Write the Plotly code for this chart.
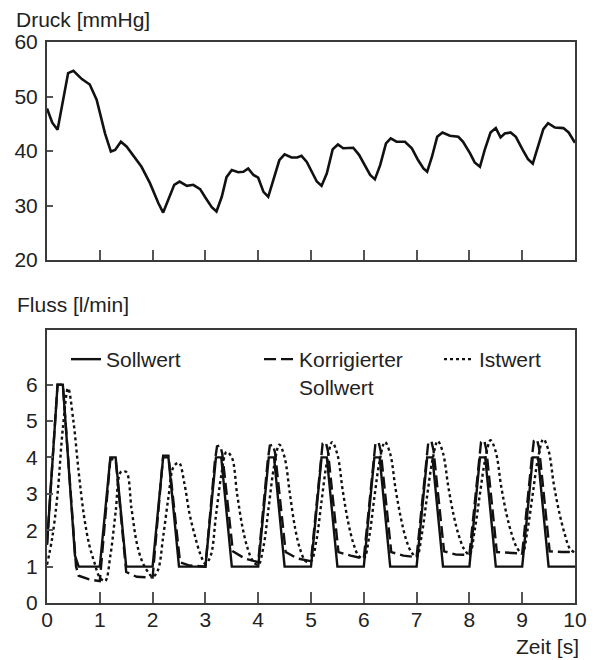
import plotly.graph_objects as go

# ---------------- data ----------------
# Druck [mmHg]
t_druck = [0, 0.1, 0.2, 0.3, 0.4, 0.5, 0.66, 0.81, 0.94, 1.1, 1.21, 1.29, 1.4, 1.51,
           1.67, 1.79, 1.95, 2.11, 2.2, 2.3, 2.41, 2.51, 2.65, 2.77, 2.9, 2.99, 3.12,
           3.21, 3.31, 3.4, 3.5, 3.62, 3.72, 3.81, 3.91, 4.0, 4.1, 4.19, 4.29, 4.4, 4.5,
           4.63, 4.74, 4.82, 4.92, 5.01, 5.11, 5.2, 5.3, 5.41, 5.51, 5.61, 5.8, 5.91,
           6.02, 6.12, 6.21, 6.31, 6.42, 6.51, 6.62, 6.78, 6.91, 7.03, 7.13, 7.2, 7.29,
           7.39, 7.49, 7.63, 7.79, 7.88, 8.01, 8.1, 8.2, 8.29, 8.4, 8.5, 8.59, 8.67,
           8.78, 8.88, 9.01, 9.11, 9.2, 9.3, 9.4, 9.49, 9.62, 9.78, 9.88, 10.0]
druck = [47.8, 45.2, 43.9, 49.0, 54.3, 54.7, 53.2, 52.2, 49.4, 43.2, 39.9, 40.2, 41.7, 40.8,
         38.7, 37.1, 34.1, 30.4, 28.7, 31.0, 33.8, 34.4, 33.6, 33.8, 33.0, 31.6, 29.7,
         28.9, 31.6, 35.2, 36.5, 36.1, 36.2, 36.8, 35.6, 35.1, 32.5, 31.6, 34.7, 38.3, 39.4,
         38.8, 38.8, 39.1, 38.0, 36.2, 34.4, 33.6, 35.9, 40.3, 41.2, 40.5, 40.6, 39.3,
         37.4, 35.6, 34.8, 37.4, 41.4, 42.3, 41.7, 41.7, 40.5, 38.3, 36.8, 36.2, 38.9,
         42.6, 43.4, 42.8, 42.6, 41.7, 39.6, 37.9, 37.1, 40.2, 43.4, 44.2, 42.5, 43.2,
         43.4, 42.6, 40.2, 38.5, 37.7, 40.8, 44.0, 45.1, 44.3, 44.2, 43.4, 41.5]

# Fluss [l/min] - Sollwert
t_soll = [0, 0.2, 0.3, 0.53, 0.6, 1.0, 1.2, 1.3, 1.5, 2.0, 2.2, 2.3, 2.5, 3.0, 3.2, 3.3,
          3.5, 4.0, 4.2, 4.3, 4.5, 5.0, 5.2, 5.3, 5.5, 6.0, 6.2, 6.3, 6.5, 7.0, 7.2, 7.3,
          7.5, 8.0, 8.2, 8.3, 8.5, 9.0, 9.2, 9.3, 9.5, 10.0]
soll = [1.6, 6, 6, 1.3, 1, 1, 4, 4, 1, 1, 4, 4, 1, 1, 4, 4,
        1, 1, 4, 4, 1, 1, 4, 4, 1, 1, 4, 4, 1, 1, 4, 4,
        1, 1, 4, 4, 1, 1, 4, 4, 1, 1]

# Korrigierter Sollwert
t_korr = [0, 0.2, 0.3, 0.55, 0.6, 0.8, 1.0,
          1.2, 1.3, 1.5, 1.7, 2.0,
          2.2, 2.3, 2.52, 2.7, 3.0,
          3.18, 3.22, 3.28, 3.32, 3.52, 3.75, 4.0,
          4.18, 4.22, 4.28, 4.32, 4.52, 4.75, 5.0,
          5.18, 5.22, 5.28, 5.32, 5.52, 5.75, 6.0,
          6.18, 6.22, 6.28, 6.32, 6.52, 6.75, 7.0,
          7.18, 7.22, 7.28, 7.32, 7.52, 7.75, 8.0,
          8.18, 8.22, 8.28, 8.32, 8.52, 8.75, 9.0,
          9.18, 9.22, 9.28, 9.32, 9.52, 9.75, 10.0]
korr = [1.6, 6, 6, 1.0, 0.75, 0.65, 0.6,
        3.95, 3.95, 0.85, 0.72, 0.7,
        4.05, 4.05, 1.12, 1.03, 1.0,
        3.9, 4.3, 4.33, 4.1, 1.42, 1.22, 1.12,
        3.9, 4.32, 4.35, 4.12, 1.4, 1.22, 1.15,
        3.95, 4.38, 4.42, 4.18, 1.4, 1.3, 1.22,
        3.95, 4.38, 4.42, 4.18, 1.4, 1.3, 1.26,
        3.95, 4.4, 4.45, 4.2, 1.42, 1.33, 1.32,
        3.95, 4.42, 4.47, 4.22, 1.4, 1.38, 1.36,
        3.95, 4.45, 4.5, 4.25, 1.42, 1.4, 1.4]

# Istwert
t_ist = [round(i * 0.1, 1) for i in range(101)]
ist = [1.05, 1.8, 3.0, 4.8, 5.9, 5.0, 3.6, 2.4, 1.6, 1.1,
       0.7, 0.6, 1.3, 2.5, 3.6, 3.6, 2.6, 1.65, 1.15, 0.88,
       0.72, 0.9, 1.82, 2.9, 3.75, 3.85, 3.3, 2.45, 1.85, 1.36,
       1.08, 1.3, 2.4, 3.5, 4.15, 4.0, 3.0, 2.1, 1.5, 1.15,
       1.05, 1.55, 2.65, 3.75, 4.35, 4.0, 3.0, 2.05, 1.45, 1.15,
       1.15, 1.7, 2.8, 3.85, 4.42, 4.08, 3.1, 2.25, 1.65, 1.3,
       1.22, 1.8, 2.9, 3.9, 4.42, 4.1, 3.15, 2.35, 1.75, 1.4,
       1.27, 1.9, 2.95, 3.92, 4.45, 4.12, 3.2, 2.42, 1.85, 1.48,
       1.33, 2.0, 3.0, 3.95, 4.47, 4.15, 3.22, 2.46, 1.9, 1.52,
       1.36, 2.0, 3.0, 3.98, 4.5, 4.18, 3.25, 2.5, 1.92, 1.5,
       1.38]

top_yticks = [20, 30, 40, 50, 60]
bot_yticks = [0, 1, 2, 3, 4, 5, 6]
xticks = list(range(0, 11))

# ---------------- figure ----------------
# the page adds an 8px body margin, so the figure is made 8px smaller and
# positions below are given in window pixels and converted.
OFF = 8
W, H = 595 - OFF, 660 - OFF


def px(x):
    return (x - OFF) / W


def py(y):
    return 1 - (y - OFF) / H


FONT = "Liberation Sans, Arial, sans-serif"
FS = 21
LINE = "#111111"
AX = "#3a3a3a"
TXT = "#222222"

fig = go.Figure()

fig.add_trace(go.Scatter(x=t_druck, y=druck, mode="lines", xaxis="x", yaxis="y",
                         line=dict(color=LINE, width=2.6), showlegend=False))

fig.add_trace(go.Scatter(x=t_soll, y=soll, mode="lines", xaxis="x2", yaxis="y2",
                         name="Sollwert", legend="legend",
                         line=dict(color=LINE, width=2.4)))
fig.add_trace(go.Scatter(x=t_korr, y=korr, mode="lines", xaxis="x2", yaxis="y2",
                         name="Korrigierter<br>Sollwert", legend="legend2",
                         line=dict(color=LINE, width=2.4, dash="12px,5px")))
fig.add_trace(go.Scatter(x=t_ist, y=ist, mode="lines", xaxis="x2", yaxis="y2",
                         name="Istwert", legend="legend3", line_shape="spline",
                         line=dict(color=LINE, width=2.4, dash="dot")))

xdom = [px(47), px(575)]
top_dom = [py(260), py(42)]
bot_dom = [py(603), py(330)]

axis_common = dict(showline=True, mirror=True, linecolor=AX, linewidth=2,
                   showgrid=False, zeroline=False, ticks="inside",
                   tickcolor="#555555", tickwidth=1.5, automargin=False,
                   tickfont=dict(family=FONT, size=FS, color=TXT))

legend_common = dict(orientation="h", yanchor="top", xanchor="left",
                     bgcolor="rgba(0,0,0,0)", valign="top",
                     font=dict(family=FONT, size=FS, color=TXT))

fig.update_layout(
    width=W, height=H,
    margin=dict(l=0, r=0, t=0, b=0),
    paper_bgcolor="white", plot_bgcolor="white",
    font=dict(family=FONT, size=FS, color=TXT),
    xaxis=dict(domain=xdom, range=[0, 10], anchor="y", tickvals=xticks[1:-1],
               showticklabels=False, ticklen=10, **axis_common),
    yaxis=dict(domain=top_dom, range=[20, 60], anchor="x", tickvals=top_yticks,
               ticklen=6, ticklabelstandoff=3, **axis_common),
    xaxis2=dict(domain=xdom, range=[0, 10], anchor="y2", tickvals=xticks,
                ticklen=11, ticklabelstandoff=-3, **axis_common),
    yaxis2=dict(domain=bot_dom, range=[0, 7.5], anchor="x2", tickvals=bot_yticks,
                ticklen=6, ticklabelstandoff=3, **axis_common),
    legend=dict(x=px(66), y=py(339), **legend_common),
    legend2=dict(x=px(259), y=py(339), **legend_common),
    legend3=dict(x=px(439), y=py(339), **legend_common),
    annotations=[
        dict(text="Druck [mmHg]", x=px(14), y=py(19), xref="paper", yref="paper",
             xanchor="left", yanchor="middle", showarrow=False,
             font=dict(family=FONT, size=FS, color=TXT)),
        dict(text="Fluss [l/min]", x=px(15), y=py(305), xref="paper", yref="paper",
             xanchor="left", yanchor="middle", showarrow=False,
             font=dict(family=FONT, size=FS, color=TXT)),
        dict(text="Zeit [s]", x=px(581), y=py(646), xref="paper", yref="paper",
             xanchor="right", yanchor="middle", showarrow=False,
             font=dict(family=FONT, size=FS, color=TXT)),
    ],
)

fig.write_html("out.html")
